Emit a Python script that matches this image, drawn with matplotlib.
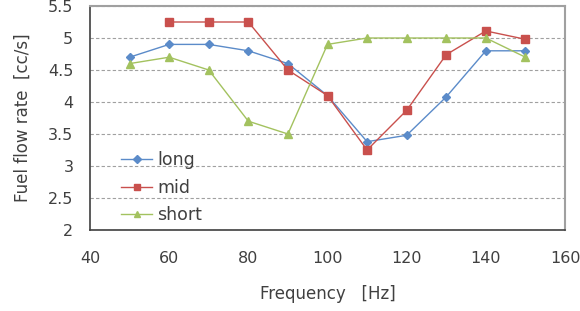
import matplotlib
matplotlib.use("Agg")
import matplotlib.pyplot as plt

freq = [50, 60, 70, 80, 90, 100, 110, 120, 130, 140, 150]
long_rate = [4.7, 4.9, 4.9, 4.8, 4.6, 4.1, 3.38, 3.48, 4.08, 4.8, 4.8]
mid_freq = [60, 70, 80, 90, 100, 110, 120, 130, 140, 150]
mid_rate = [5.25, 5.25, 5.25, 4.5, 4.1, 3.25, 3.87, 4.74, 5.11, 4.98]
short_rate = [4.6, 4.7, 4.5, 3.7, 3.5, 4.9, 5.0, 5.0, 5.0, 5.0, 4.7]

plt.rcParams['font.family'] = ['DejaVu Sans']
txt = '#404040'

fig = plt.figure(figsize=(5.8, 3.11), dpi=100)
ax = fig.add_axes([90 / 580, 1 - 230 / 311, 475 / 580, 224 / 311])

ax.plot(freq, long_rate, color='#5b8bc9', marker='D', markersize=4.5, lw=1.0, label='long')
ax.plot(mid_freq, mid_rate, color='#c9504d', marker='s', markersize=6, lw=1.0, label='mid')
ax.plot(freq, short_rate, color='#a3c25f', marker='^', markersize=6, lw=1.0, label='short')

ax.set_xlim(40, 160)
ax.set_ylim(2, 5.5)
ax.set_xticks(range(40, 161, 20))
ax.set_yticks([2, 2.5, 3, 3.5, 4, 4.5, 5, 5.5])
ax.set_yticklabels(['2', '2.5', '3', '3.5', '4', '4.5', '5', '5.5'])
ax.yaxis.grid(True, linestyle=(0, (3, 2)), color='#a0a0a0', lw=0.8)
ax.set_axisbelow(True)
ax.tick_params(length=0, labelsize=11.5, colors=txt)
ax.tick_params(axis='x', pad=15)
ax.tick_params(axis='y', pad=12)

for s in ['top', 'right']:
    ax.spines[s].set_color('#a0a0a0')
    ax.spines[s].set_linewidth(1.5)
for s in ['left', 'bottom']:
    ax.spines[s].set_color('#404040')
    ax.spines[s].set_linewidth(1.2)

ax.set_xlabel('Frequency   [Hz]', fontsize=12, color=txt, labelpad=14)
ax.set_ylabel('Fuel flow rate  [cc/s]', fontsize=12, color=txt, labelpad=12)

ax.legend(loc='lower left', bbox_to_anchor=(0.059, 0.01), frameon=False, fontsize=12.5,
          handlelength=1.75, handletextpad=0.3, labelspacing=0.55, borderpad=0.2,
          borderaxespad=0, labelcolor=txt, markerscale=0.8)

fig.savefig('out.png', dpi=100)
